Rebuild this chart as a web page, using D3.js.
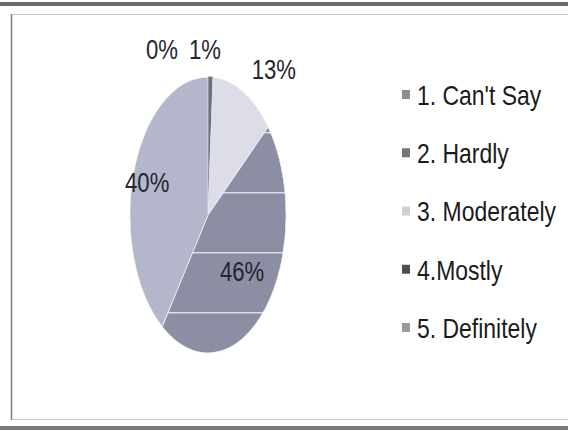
<!DOCTYPE html>
<html>
<head>
<meta charset="utf-8">
<script src="https://cdn.jsdelivr.net/npm/d3@7"></script>
<style>
  body { margin: 0; background: #fff; }
  svg { display: block; }
</style>
</head>
<body>
<svg id="chart" width="568" height="431"></svg>
<script>
// chart data
const categories = ["1. Can't Say", "2. Hardly", "3. Moderately", "4.Mostly", "5. Definitely"];
const values = [0, 1, 13, 46, 40];
const sliceColors = ["#8f929f", "#6c6f7e", "#dcdde7", "#8c8fa3", "#b4b7cb"];
const legendColors = ["#8e8e8e", "#767676", "#cfcfcf", "#4f4f4f", "#9a9a9a"];

const width = 568, height = 431;
const narrow = 0.82; // squeeze Liberation Sans to look like Arial Narrow
const font = "'Liberation Sans', Arial, sans-serif";
const svg = d3.select("#chart");

// frame of the scanned box
svg.append("rect").attr("x", 0).attr("y", 2).attr("width", width).attr("height", 4).attr("fill", "#6a6a6a");
svg.append("rect").attr("x", 0).attr("y", 426).attr("width", width).attr("height", 4).attr("fill", "#7a7a7a");
svg.append("rect")
  .attr("x", 11.5).attr("y", 14.5).attr("width", width).attr("height", 405)
  .attr("fill", "none").attr("stroke", "#c8c8c8").attr("stroke-width", 1);
svg.append("line").attr("x1", 11.5).attr("x2", 11.5).attr("y1", 14).attr("y2", 420)
  .attr("stroke", "#7c7c7c").attr("stroke-width", 1.5);

// pie is drawn as a circle then stretched into an ellipse
const cx = 208, cy = 215, rx = 78, ry = 138;
const sy = ry / rx;

const pie = d3.pie().sort(null).value(d => d)(values);
const arc = d3.arc().innerRadius(0).outerRadius(rx);

const defs = svg.append("defs");
const stripe = defs.append("pattern")
  .attr("id", "stripes")
  .attr("patternUnits", "userSpaceOnUse")
  .attr("width", 40)
  .attr("height", 60 / sy)
  .attr("y", (192 - cy) / sy);
stripe.append("rect").attr("width", 40).attr("height", 60 / sy).attr("fill", sliceColors[3]);
stripe.append("rect").attr("width", 40).attr("height", 1.4 / sy).attr("fill", "#dfe1ea");

const pieG = svg.append("g")
  .attr("transform", `translate(${cx},${cy}) scale(1,${sy})`);

pieG.selectAll("path")
  .data(pie)
  .join("path")
  .attr("d", arc)
  .attr("fill", (d, i) => i === 3 ? "url(#stripes)" : sliceColors[i])
  .attr("stroke", (d, i) => i === 1 ? "#6c6f7e" : "#f2f2f6")
  .attr("stroke-width", 0.6);

// percentage labels
const labelRadius = [1.2, 1.2, 1.18, 0.6, 0.82];
const labelNudge = [-46, -6, 24, 0, 0];
const labelDy = [0, 0, 0, 0, 3];

svg.append("g").selectAll("text")
  .data(pie)
  .join("text")
  .attr("transform", (d, i) => {
    const a = (d.startAngle + d.endAngle) / 2;
    const x = cx + Math.sin(a) * rx * labelRadius[i] + labelNudge[i];
    const y = cy - Math.cos(a) * ry * labelRadius[i] + labelDy[i];
    return `translate(${x},${y}) scale(${narrow},1)`;
  })
  .attr("text-anchor", "middle")
  .attr("dominant-baseline", "central")
  .attr("font-family", font)
  .attr("font-size", 27)
  .attr("fill", "#24252e")
  .text(d => d.data + "%");

// legend
const legendY = d3.scalePoint().domain(categories).range([95, 328]);
const legend = svg.append("g").selectAll("g")
  .data(categories)
  .join("g")
  .attr("transform", d => `translate(402,${legendY(d)})`);

legend.append("rect")
  .attr("x", 0).attr("y", -5)
  .attr("width", 8).attr("height", 9)
  .attr("fill", (d, i) => legendColors[i]);

legend.append("text")
  .attr("transform", `translate(15,0) scale(${narrow},1)`)
  .attr("dominant-baseline", "central")
  .attr("font-family", font)
  .attr("font-size", 28)
  .attr("fill", "#1b1b1b")
  .text(d => d);
</script>
</body>
</html>
